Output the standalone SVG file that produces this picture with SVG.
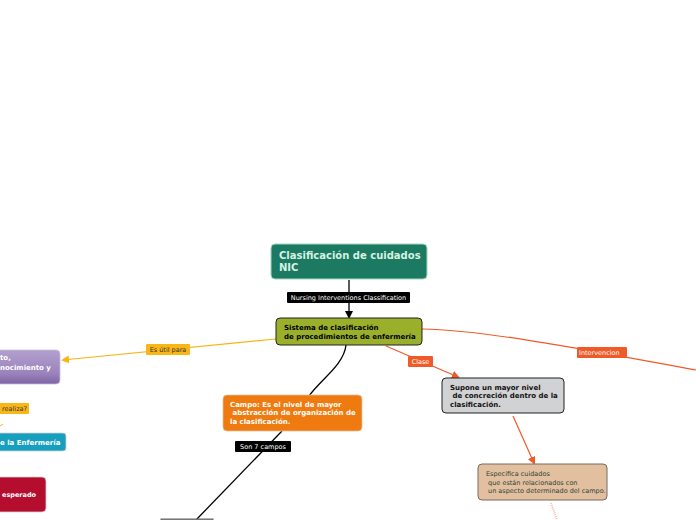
<svg xmlns="http://www.w3.org/2000/svg" width="696" height="520" viewBox="0 0 696 520">
<style>
text{font-family:"DejaVu Sans","Liberation Sans",sans-serif;white-space:pre}
.b{font-weight:bold}
.lbl{font-size:6.5px}
.n{font-size:7px}
</style>
<defs>
<marker id="ak" markerWidth="8" markerHeight="8" refX="6" refY="4" orient="auto" markerUnits="userSpaceOnUse"><path d="M0,0 L8,4 L0,8 z" fill="#000"/></marker>
<marker id="ay" markerWidth="8" markerHeight="8" refX="6" refY="4" orient="auto" markerUnits="userSpaceOnUse"><path d="M0,0 L8,4 L0,8 z" fill="#f7b515"/></marker>
<marker id="ar" markerWidth="8" markerHeight="8" refX="6" refY="4" orient="auto" markerUnits="userSpaceOnUse"><path d="M0,0 L8,4 L0,8 z" fill="#f05a28"/></marker>
<linearGradient id="gp" x1="0" y1="0" x2="0" y2="1"><stop offset="0" stop-color="#b3a0cf"/><stop offset="0.7" stop-color="#9a82bb"/><stop offset="1" stop-color="#7e64a4"/></linearGradient>
</defs>
<g id="connectors" fill="none">
<line x1="349" y1="280" x2="349" y2="317" stroke="#000" stroke-width="1.3" marker-end="url(#ak)"/>
<line x1="276" y1="339" x2="63" y2="360" stroke="#f7b515" stroke-width="1.2" marker-end="url(#ay)"/>
<path d="M346,345 C344,365 320,380 309,396" stroke="#000" stroke-width="1.3"/>
<path d="M282,431 L196,520" stroke="#000" stroke-width="1.3"/>
<line x1="386" y1="346" x2="458" y2="377" stroke="#f05a28" stroke-width="1.2" marker-end="url(#ar)"/>
<path d="M422,329 C480,330 560,345 696,370" stroke="#f05a28" stroke-width="1.2"/>
<line x1="513" y1="416" x2="534" y2="463" stroke="#f05a28" stroke-width="1.2" marker-end="url(#ar)"/>
<line x1="551" y1="503" x2="557" y2="520" stroke="#f5b8b8" stroke-width="2" stroke-dasharray="1,1"/>
<line x1="0" y1="426" x2="3" y2="424" stroke="#f7b515" stroke-width="1"/>
<g id="labels">
<rect x="287" y="292" width="123" height="11" fill="#000" rx="1"/>
<text x="348.5" y="300" class="lbl" fill="#fff" text-anchor="middle">Nursing Interventions Classification</text>
<rect x="146" y="344" width="44" height="11" fill="#f9b617" rx="1"/>
<text x="168" y="352" class="lbl" fill="#333" text-anchor="middle">Es útil para</text>
<rect x="-5" y="403" width="34" height="11" fill="#f9b617" rx="1"/>
<text x="27" y="411" class="lbl" fill="#333" text-anchor="end">realiza?</text>
<rect x="235" y="441" width="56" height="11" fill="#000" rx="1"/>
<text x="263" y="449" class="lbl" fill="#fff" text-anchor="middle">Son 7 campos</text>
<rect x="408" y="356" width="25" height="11" fill="#f05a28" rx="1"/>
<text x="420.5" y="364" class="lbl" fill="#fff" text-anchor="middle">Clase</text>
<rect x="577" y="347" width="50" height="11" fill="#f05a28" rx="1"/>
<text x="579" y="355" class="lbl" fill="#fff">Intervencion</text>
</g>
</g>
<g id="n-root">
<rect x="271" y="244" width="156" height="35" rx="4" fill="#1b7a61" stroke="#9fd9bf" stroke-width="1"/>
<text x="279" y="259" class="b" font-size="10" fill="#d6f1e4">Clasificación de cuidados</text>
<text x="279" y="271" class="b" font-size="10" fill="#d6f1e4">NIC</text>
</g>
<g id="n-sistema">
<rect x="276" y="318" width="146" height="27" rx="4" fill="#9aaf2a" stroke="#222" stroke-width="1"/>
<text x="284" y="330" class="b n" fill="#000">Sistema de clasificación</text>
<text x="284" y="339" class="b n" fill="#000">de procedimientos de enfermería</text>
</g>
<g id="n-purple">
<rect x="-10" y="350" width="70" height="34" rx="4" fill="url(#gp)" stroke="#c9bde0" stroke-width="0.8"/>
<text x="0" y="360" class="b n" fill="#fff">to,</text>
<text x="0" y="370" class="b n" fill="#fff">nocimiento y</text>
</g>
<g id="n-teal">
<rect x="-10" y="433" width="76" height="18" rx="3" fill="#179fbf" stroke="#d0d0d0" stroke-width="0.8"/>
<text x="0" y="445" class="b n" fill="#fff">e la Enfermería</text>
</g>
<g id="n-red">
<rect x="-10" y="477" width="56" height="35" rx="4" fill="#b50d2d" stroke="#d0d0d0" stroke-width="0.8"/>
<text x="2" y="497" class="b" font-size="6.5" fill="#fff">esperado</text>
</g>
<g id="n-campo">
<rect x="223" y="395" width="139" height="36" rx="4" fill="#ef7a10" stroke="#e0c0a0" stroke-width="0.8"/>
<text x="230" y="407" class="b n" fill="#fff">Campo: Es el nivel de mayor</text>
<text x="230" y="415" class="b n" fill="#fff" xml:space="preserve"> abstracción de organización de</text>
<text x="230" y="424" class="b n" fill="#fff">la clasificación.</text>
</g>
<g id="n-bottom">
<rect x="161" y="519" width="52" height="10" fill="#888" stroke="#666" stroke-width="1"/>
</g>
<g id="n-supone">
<rect x="442" y="378" width="122" height="35" rx="4" fill="#d1d2d4" stroke="#222" stroke-width="1"/>
<text x="450" y="390" class="b n" fill="#111">Supone un mayor nivel</text>
<text x="450" y="398" class="b n" fill="#111" xml:space="preserve"> de concreción dentro de la</text>
<text x="450" y="407" class="b n" fill="#111">clasificación.</text>
</g>
<g id="n-especifica">
<rect x="478" y="464" width="129" height="36" rx="4" fill="#e2bf9f" stroke="#7a6a5a" stroke-width="1"/>
<text x="486" y="476" font-size="6.5" fill="#2e4438">Especifica cuidados</text>
<text x="486" y="485" font-size="6.5" fill="#2e4438" xml:space="preserve"> que están relacionados con</text>
<text x="486" y="493" font-size="6.5" fill="#2e4438" xml:space="preserve"> un aspecto determinado del campo.</text>
</g>
</svg>
